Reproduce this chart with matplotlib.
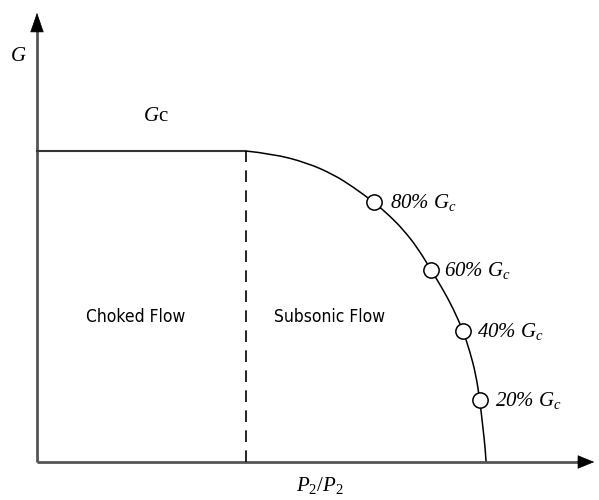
import matplotlib.pyplot as plt
from matplotlib.path import Path
from matplotlib.patches import PathPatch

# curve (pressure ratio normalised to curve end, G as fraction of Gc)
curve_x = [0.464, 0.524, 0.600, 0.658, 0.702, 0.749, 0.785, 0.815, 0.845, 0.876,
           0.902, 0.925, 0.947, 0.962, 0.975, 0.984, 0.991, 0.996, 0.998]
curve_g = [1.000, 0.991, 0.962, 0.925, 0.885, 0.835, 0.790, 0.745, 0.690, 0.617,
           0.555, 0.493, 0.421, 0.355, 0.283, 0.199, 0.110, 0.045, 0.000]

marker_x = [0.749, 0.876, 0.947, 0.984]
marker_g = [0.835, 0.617, 0.421, 0.199]
marker_labels = [r'80% $G_c$', r'60% $G_c$', r'40% $G_c$', r'20% $G_c$']

choke_x = 0.464
gc_level = 1.0
region_labels = ['Choked Flow', 'Subsonic Flow']
region_x = [0.22, 0.651]

plt.rcParams['mathtext.fontset'] = 'custom'
plt.rcParams['mathtext.rm'] = 'Liberation Serif'
plt.rcParams['mathtext.it'] = 'Liberation Serif:italic'
plt.rcParams['mathtext.bf'] = 'Liberation Serif:bold'

fig = plt.figure(figsize=(5.99, 5.0), dpi=100)
ax = fig.add_axes([0, 0, 1, 1])
ax.set_xlim(-37 / 450, 562 / 450)
ax.set_ylim(-38 / 311, 462 / 311)
ax.axis('off')

axis_col = '#555555'
x_end = 560 / 450
y_end = 452 / 311
ax.plot([0, x_end - 0.03], [0, 0], color=axis_col, lw=2, solid_capstyle='butt')
ax.plot([0, 0], [0, y_end - 0.05], color=axis_col, lw=2, solid_capstyle='butt')
ax.annotate('', xy=(x_end, 0), xytext=(x_end - 0.05, 0),
            arrowprops=dict(arrowstyle='-|>,head_length=1.1,head_width=0.45', color='black', lw=0.5))
ax.annotate('', xy=(0, y_end), xytext=(0, y_end - 0.07),
            arrowprops=dict(arrowstyle='-|>,head_length=1.3,head_width=0.45', color='black', lw=0.5))

# Gc level and choke boundary
ax.plot([0, choke_x], [gc_level, gc_level], color='#333333', lw=1.5)
ax.plot([choke_x, choke_x], [0, gc_level], color='black', lw=1.2, ls=(0, (7, 5)))

# smooth the read points with quadratic bezier segments
pts = list(zip(curve_x, curve_g))
verts = [pts[0]]
codes = [Path.MOVETO]
for i in range(1, len(pts) - 1):
    nxt = pts[i + 1]
    mid = ((pts[i][0] + nxt[0]) / 2, (pts[i][1] + nxt[1]) / 2) if i < len(pts) - 2 else nxt
    verts += [pts[i], mid]
    codes += [Path.CURVE3, Path.CURVE3]
ax.add_patch(PathPatch(Path(verts, codes), fill=False, edgecolor='black', lw=1.1))

ax.plot(marker_x, marker_g, ls='none', marker='o', ms=11, mfc='white', mec='black', mew=1.1)

label_dx = [0.036, 0.028, 0.031, 0.033]
for x, g, lab, dx in zip(marker_x, marker_g, marker_labels, label_dx):
    ax.text(x + dx, g, lab, fontsize=15, ha='left', va='center',
            family='Liberation Serif', style='italic')

for x, lab in zip(region_x, region_labels):
    ax.text(x, 0.466, lab, fontsize=12.5, ha='center', va='center',
            family='DejaVu Sans', stretch='condensed')

ax.text(-0.042, 1.309, r'$G$', fontsize=15, ha='center', va='center')
ax.text(0.264, 1.116, r'$G\mathrm{c}$', fontsize=15, ha='center', va='center')
ax.text(0.629, -0.074, r'$P_2/P_2$', fontsize=15, ha='center', va='center')

fig.savefig('out.png', dpi=100)
